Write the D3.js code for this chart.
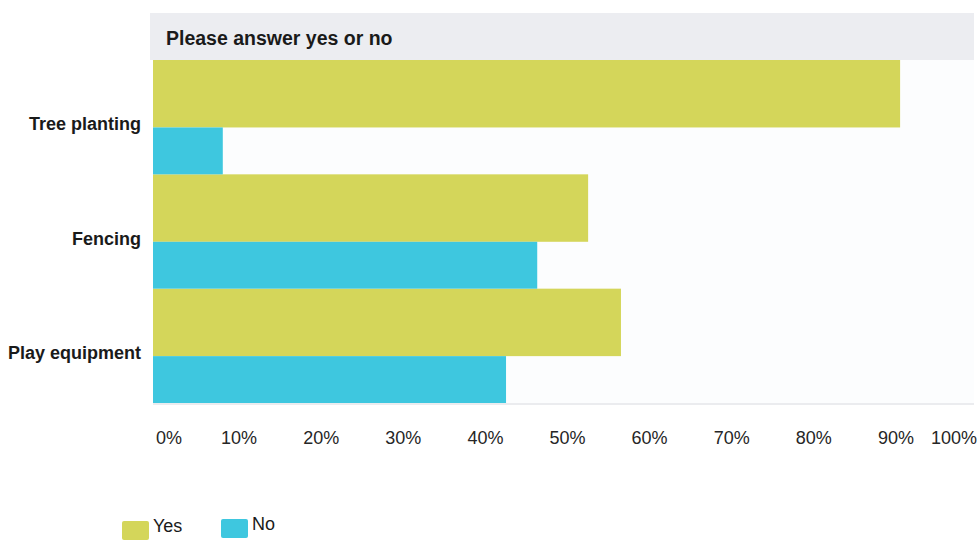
<!DOCTYPE html>
<html>
<head>
<meta charset="utf-8">
<script src="https://cdn.jsdelivr.net/npm/d3@7"></script>
<style>
  html, body { margin: 0; padding: 0; background: #ffffff; }
  svg { display: block; font-family: "Liberation Sans", Arial, sans-serif; }
</style>
</head>
<body>
<svg id="chart" width="979" height="542"></svg>
<script>
// ---- data ----
const title = "Please answer yes or no";
const categories = ["Tree planting", "Fencing", "Play equipment"];
const yesValues = [91, 53, 57];
const noValues = [8.5, 46.8, 43];
const tickValues = [0, 10, 20, 30, 40, 50, 60, 70, 80, 90, 100];
const tickLabels = ["0%", "10%", "20%", "30%", "40%", "50%", "60%", "70%", "80%", "90%", "100%"];
const seriesNames = ["Yes", "No"];
const seriesColors = ["#d4d65a", "#3ec7df"];

// ---- layout ----
const W = 979, H = 542;
const plotLeft = 153, plotRight = 974, plotTop = 60, plotBottom = 403;
const yesShare = 0.59;

const svg = d3.select("#chart");

const x = d3.scaleLinear().domain([0, 100]).range([plotLeft, plotRight]);
const y = d3.scaleBand().domain(categories).range([plotTop, plotBottom]).paddingInner(0).paddingOuter(0);
const sub = d3.scaleLinear().domain([0, 1]).range([0, y.bandwidth()]);

// header band
svg.append("rect")
  .attr("x", 150).attr("y", 13)
  .attr("width", plotRight - 150).attr("height", plotTop - 13)
  .attr("fill", "#ecedf1");
svg.append("text")
  .attr("x", 166).attr("y", 45)
  .attr("font-size", 19.5).attr("font-weight", "bold").attr("fill", "#1a1a1a")
  .text(title);

// plot background
svg.append("rect")
  .attr("x", plotLeft).attr("y", plotTop)
  .attr("width", plotRight - plotLeft).attr("height", plotBottom - plotTop)
  .attr("fill", "#fcfdfe");

// bottom baseline
svg.append("line")
  .attr("x1", plotLeft).attr("x2", plotRight)
  .attr("y1", plotBottom + 1).attr("y2", plotBottom + 1)
  .attr("stroke", "#e4e6ea").attr("stroke-width", 1.5);

// bars
const rows = categories.map((c, i) => ({ c, yes: yesValues[i], no: noValues[i] }));
const g = svg.append("g");
g.selectAll("rect.yes").data(rows).join("rect")
  .attr("class", "yes")
  .attr("x", x(0))
  .attr("y", d => y(d.c) + sub(0))
  .attr("width", d => x(d.yes) - x(0))
  .attr("height", sub(yesShare) - sub(0))
  .attr("fill", seriesColors[0]);
g.selectAll("rect.no").data(rows).join("rect")
  .attr("class", "no")
  .attr("x", x(0))
  .attr("y", d => y(d.c) + sub(yesShare))
  .attr("width", d => x(d.no) - x(0))
  .attr("height", sub(1) - sub(yesShare))
  .attr("fill", seriesColors[1]);

// category labels
svg.append("g").selectAll("text").data(categories).join("text")
  .attr("x", 141)
  .attr("y", d => y(d) + y.bandwidth() / 2 + 13)
  .attr("text-anchor", "end")
  .attr("font-size", 18).attr("font-weight", "bold").attr("fill", "#1a1a1a")
  .text(d => d);

// x tick labels (centred slightly right of tick, kept within plot width)
const tg = svg.append("g");
tickValues.forEach((v, i) => {
  const t = tg.append("text")
    .attr("font-size", 18).attr("fill", "#262626")
    .attr("y", 444)
    .text(tickLabels[i]);
  const w = t.node().getComputedTextLength();
  let cx = x(v) + 4;
  const minL = plotLeft + 3, maxR = W - 2;
  if (cx - w / 2 < minL) cx = minL + w / 2;
  if (cx + w / 2 > maxR) cx = maxR - w / 2;
  t.attr("x", cx).attr("text-anchor", "middle");
});

// legend
const legendItems = [
  { name: seriesNames[0], color: seriesColors[0], sx: 122, sy: 521, tx: 153, ty: 532 },
  { name: seriesNames[1], color: seriesColors[1], sx: 221, sy: 519, tx: 252, ty: 530 }
];
const lg = svg.append("g");
legendItems.forEach(it => {
  lg.append("rect").attr("x", it.sx).attr("y", it.sy).attr("width", 27).attr("height", 19)
    .attr("rx", 2).attr("fill", it.color);
  lg.append("text").attr("x", it.tx).attr("y", it.ty)
    .attr("font-size", 18).attr("fill", "#1a1a1a").text(it.name);
});
</script>
</body>
</html>
